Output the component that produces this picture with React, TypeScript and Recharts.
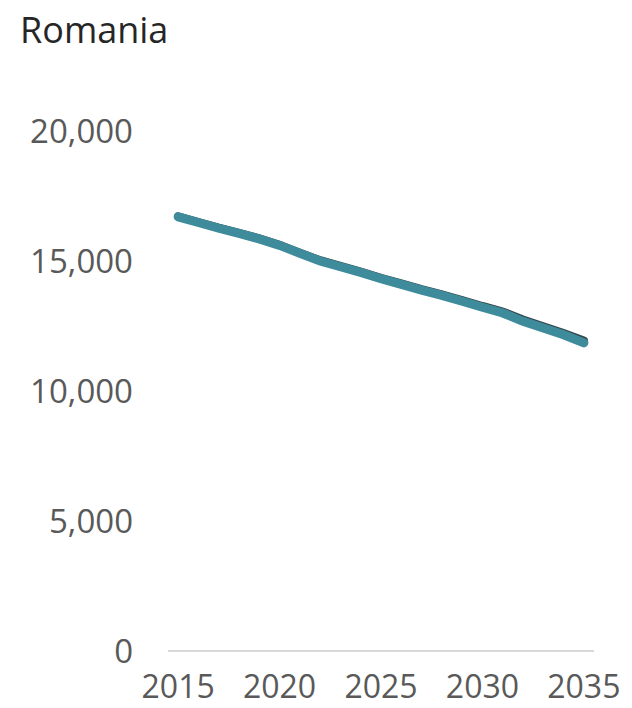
import React from "react";
import { LineChart, Line, XAxis, YAxis } from "recharts";

const YEARS = [
  2015, 2016, 2017, 2018, 2019, 2020, 2021, 2022, 2023, 2024, 2025, 2026,
  2027, 2028, 2029, 2030, 2031, 2032, 2033, 2034, 2035,
];
// darker series peeking out just above the teal one
const SHADOW_VALUES = [
  16720, 16500, 16280, 16080, 15870, 15620, 15320, 15030, 14810, 14590, 14350,
  14140, 13920, 13720, 13500, 13270, 13060, 12750, 12490, 12230, 11940,
];
const MAIN_VALUES = [
  16700, 16480, 16260, 16060, 15850, 15600, 15300, 15000, 14780, 14560, 14320,
  14100, 13880, 13680, 13450, 13220, 13000, 12680, 12420, 12160, 11850,
];
const X_TICKS = [2015, 2020, 2025, 2030, 2035];
const Y_TICKS = [0, 5000, 10000, 15000, 20000];

const data = YEARS.map((year, i) => ({
  year,
  shadow: SHADOW_VALUES[i],
  main: MAIN_VALUES[i],
}));

const FONT = "'Open Sans', 'Noto Sans', sans-serif";
const yTickStyle = { fill: "#595959", fontSize: 33, fontFamily: FONT };
const xTickStyle = { fill: "#595959", fontSize: 32, fontFamily: FONT };

export default function App() {
  return (
    <div
      style={{
        position: "absolute",
        left: 0,
        top: 0,
        width: 632,
        height: 708,
        background: "#fff",
      }}
    >
      <div
        style={{
          position: "absolute",
          left: 20,
          top: 6,
          fontFamily: FONT,
          fontSize: 36,
          lineHeight: "48px",
          color: "#262626",
        }}
      >
        Romania
      </div>
      <LineChart
        width={632}
        height={708}
        data={data}
        margin={{ top: 131, right: 38, bottom: 0, left: 0 }}
      >
        <XAxis
          dataKey="year"
          type="number"
          domain={[2014.5, 2035.5]}
          ticks={X_TICKS}
          height={57}
          tickLine={false}
          tickMargin={18}
          axisLine={{ stroke: "#d9d9d9", strokeWidth: 2 }}
          tick={xTickStyle}
        />
        <YAxis
          type="number"
          domain={[0, 20000]}
          ticks={Y_TICKS}
          width={168}
          tickLine={false}
          axisLine={false}
          tickMargin={29}
          tickFormatter={(v: number) => v.toLocaleString("en-US")}
          tick={yTickStyle}
        />
        <Line
          dataKey="shadow"
          type="linear"
          stroke="#34474c"
          strokeWidth={8}
          strokeLinecap="round"
          dot={false}
          isAnimationActive={false}
        />
        <Line
          dataKey="main"
          type="linear"
          stroke="#3e8b9c"
          strokeWidth={9}
          strokeLinecap="round"
          dot={false}
          isAnimationActive={false}
        />
      </LineChart>
    </div>
  );
}
